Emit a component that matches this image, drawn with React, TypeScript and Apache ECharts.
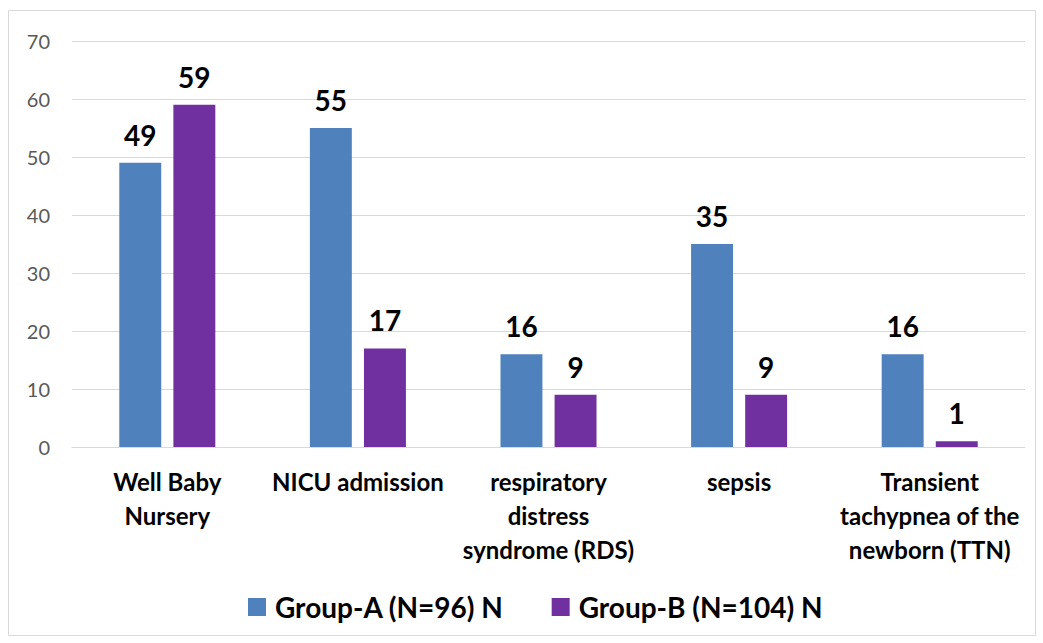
import React, { useEffect, useRef } from "react";
import * as echarts from "echarts";

const categories = [
  "Well Baby\nNursery",
  "NICU admission",
  "respiratory\ndistress\nsyndrome (RDS)",
  "sepsis",
  "Transient\ntachypnea of the\nnewborn (TTN)",
];
const groupA = [49, 55, 16, 35, 16];
const groupB = [59, 17, 9, 9, 1];
const seriesNames = ["Group-A (N=96) N", "Group-B (N=104) N"];

const FONT = "Lato, 'Open Sans', sans-serif";

export default function App() {
  const ref = useRef<HTMLDivElement>(null);
  useEffect(() => {
    if (!ref.current) return;
    const chart = echarts.init(ref.current, null, { renderer: "svg" });
    const label = {
      show: true,
      position: "top",
      distance: 14,
      fontFamily: FONT,
      fontWeight: "bold",
      fontSize: 28,
      color: "#000",
    };
    chart.setOption({
      animation: false,
      backgroundColor: "#fff",
      textStyle: { fontFamily: FONT },
      graphic: [
        {
          type: "rect",
          shape: { x: 8.5, y: 10.5, width: 1027, height: 625 },
          style: { fill: "none", stroke: "#d9d9d9", lineWidth: 1 },
          silent: true,
        },
      ],
      grid: { left: 72, right: 18, top: 41, bottom: 196, containLabel: false },
      legend: {
        top: 588,
        left: 243,
        itemWidth: 18,
        itemHeight: 18,
        itemGap: 48,
        icon: "rect",
        textStyle: {
          fontFamily: FONT,
          fontWeight: "bold",
          fontSize: 28,
          color: "#000",
          padding: [0, 0, 0, 4],
        },
        data: seriesNames,
      },
      xAxis: {
        type: "category",
        data: categories,
        axisLine: { lineStyle: { color: "#d9d9d9", width: 1 } },
        axisTick: { show: false },
        axisLabel: {
          interval: 0,
          margin: 17,
          fontFamily: FONT,
          fontWeight: "bold",
          fontSize: 24,
          lineHeight: 34,
          color: "#000",
        },
      },
      yAxis: {
        type: "value",
        min: 0,
        max: 70,
        interval: 10,
        axisLine: { show: false },
        axisTick: { show: false },
        splitLine: { lineStyle: { color: "#d9d9d9", width: 1 } },
        axisLabel: { margin: 22, fontFamily: FONT, fontSize: 20, color: "#595959" },
      },
      series: [
        {
          name: seriesNames[0],
          type: "bar",
          data: groupA,
          barWidth: "22%",
          barGap: "29%",
          itemStyle: { color: "#4F81BD" },
          label,
        },
        {
          name: seriesNames[1],
          type: "bar",
          data: groupB,
          barWidth: "22%",
          itemStyle: { color: "#7030A0" },
          label,
        },
      ],
    });
    return () => chart.dispose();
  }, []);
  return (
    <div
      ref={ref}
      style={{ position: "absolute", left: 0, top: 0, width: 1043, height: 643 }}
    />
  );
}
